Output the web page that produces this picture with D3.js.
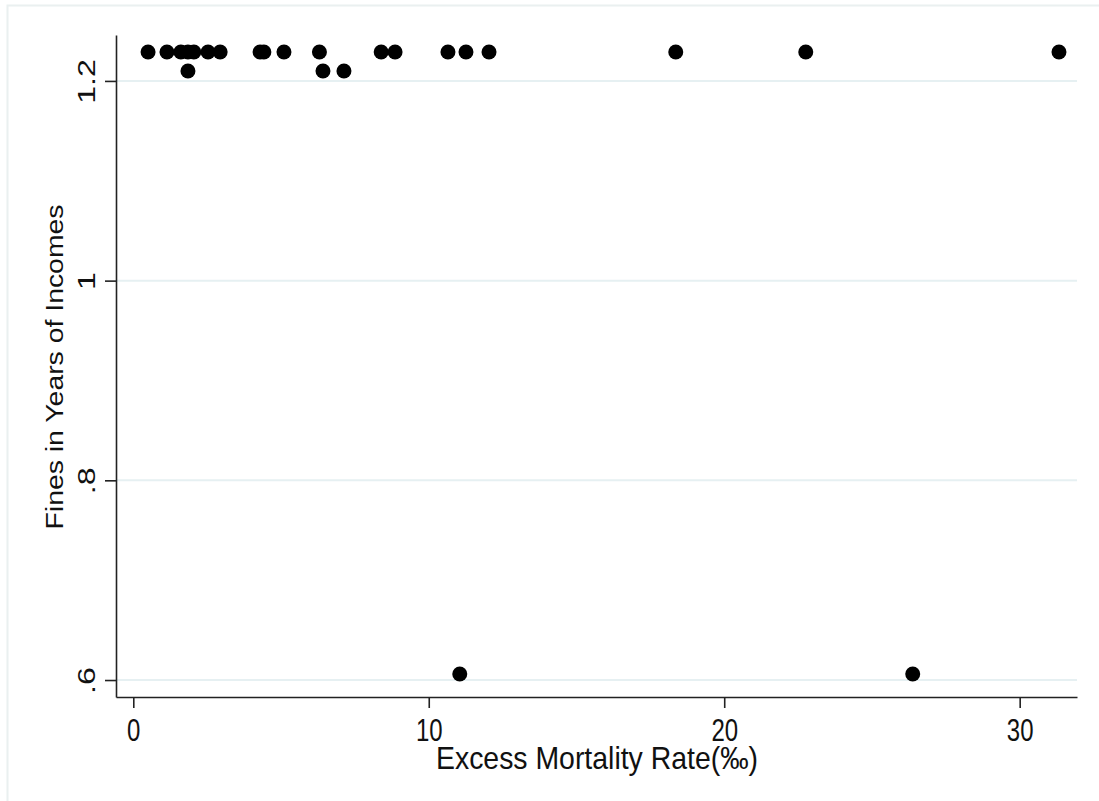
<!DOCTYPE html>
<html>
<head>
<meta charset="utf-8">
<script src="https://cdn.jsdelivr.net/npm/d3@7"></script>
<style>
  body { margin: 0; background: #fff; }
  text { font-family: "Liberation Sans", Arial, sans-serif; fill: #111; }
</style>
</head>
<body>
<div id="container"></div>
<script>
/* CONSTANTS AND GLOBALS */
const width = 1099, height = 801;
const stretch = 1.34; // the reference's text is taller than it is wide

// data
const excessMortality = [0.5, 1.14, 1.61, 1.85, 2.05, 2.53, 2.94, 4.29, 4.42, 5.10, 6.30, 8.39, 8.86,
  10.65, 11.26, 12.04, 18.36, 22.76, 31.33,
  1.85, 6.42, 7.13,
  11.05, 26.38];
const fines = [1.229, 1.229, 1.229, 1.229, 1.229, 1.229, 1.229, 1.229, 1.229, 1.229, 1.229, 1.229, 1.229,
  1.229, 1.229, 1.229, 1.229, 1.229, 1.229,
  1.21, 1.21, 1.21,
  0.606, 0.606];
const xTicks = [0, 10, 20, 30];
const yTicks = [0.6, 0.8, 1, 1.2];
const yTickLabels = [".6", ".8", "1", "1.2"];

const data = excessMortality.map((d, i) => ({ x: d, y: fines[i] }));

/* SCALES */
const xScale = d3.scaleLinear().domain([-0.585, 31.94]).range([116, 1077]);
const yScale = d3.scaleLinear().domain([0.583, 1.246]).range([697, 35]);

/* SVG */
const svg = d3.select("#container").append("svg")
  .attr("width", width)
  .attr("height", height);

// faint outer frame
svg.append("rect")
  .attr("x", 7.5).attr("y", 5.5)
  .attr("width", 1100).attr("height", 800)
  .attr("fill", "none")
  .attr("stroke", "#eaf0f0")
  .attr("stroke-width", 2);

// gridlines
svg.append("g").selectAll("line")
  .data(yTicks)
  .join("line")
  .attr("x1", 116).attr("x2", 1077)
  .attr("y1", d => yScale(d)).attr("y2", d => yScale(d))
  .attr("stroke", "#e6f0f2")
  .attr("stroke-width", 2);

// x axis
const xAxisGroup = svg.append("g")
  .attr("transform", `translate(0,${yScale.range()[0]})`)
  .call(d3.axisBottom(xScale).tickValues(xTicks).tickSize(11).tickSizeOuter(0));

xAxisGroup.selectAll("text")
  .attr("y", 0).attr("dy", 0)
  .attr("transform", `translate(0,44) scale(1,${stretch})`)
  .style("font-size", "24px");

// y axis
const yAxisGroup = svg.append("g")
  .attr("transform", `translate(${xScale.range()[0]},0)`)
  .call(d3.axisLeft(yScale).tickValues(yTicks).tickSize(11).tickSizeOuter(0)
    .tickFormat((d, i) => yTickLabels[i]));

yAxisGroup.selectAll("text")
  .attr("x", 0).attr("y", 0).attr("dy", 0)
  .attr("text-anchor", "middle")
  .attr("transform", `translate(-21,0) scale(1,${stretch}) rotate(-90)`)
  .style("font-size", "24px");

svg.selectAll(".domain, .tick line")
  .attr("stroke", "#222")
  .attr("stroke-width", 1.6);

// axis titles
svg.append("text")
  .attr("text-anchor", "middle")
  .attr("transform", `translate(597,769) scale(1,${stretch})`)
  .attr("textLength", 322)
  .attr("lengthAdjust", "spacingAndGlyphs")
  .style("font-size", "24px")
  .text("Excess Mortality Rate(‰)");

svg.append("text")
  .attr("text-anchor", "middle")
  .attr("transform", `translate(63,367) scale(1,${stretch}) rotate(-90)`)
  .attr("textLength", 325 / stretch)
  .attr("lengthAdjust", "spacingAndGlyphs")
  .style("font-size", "24px")
  .text("Fines in Years of Incomes");

// points
svg.append("g").selectAll("circle")
  .data(data)
  .join("circle")
  .attr("cx", d => xScale(d.x))
  .attr("cy", d => yScale(d.y))
  .attr("r", 7.5)
  .attr("fill", "#000");
</script>
</body>
</html>
